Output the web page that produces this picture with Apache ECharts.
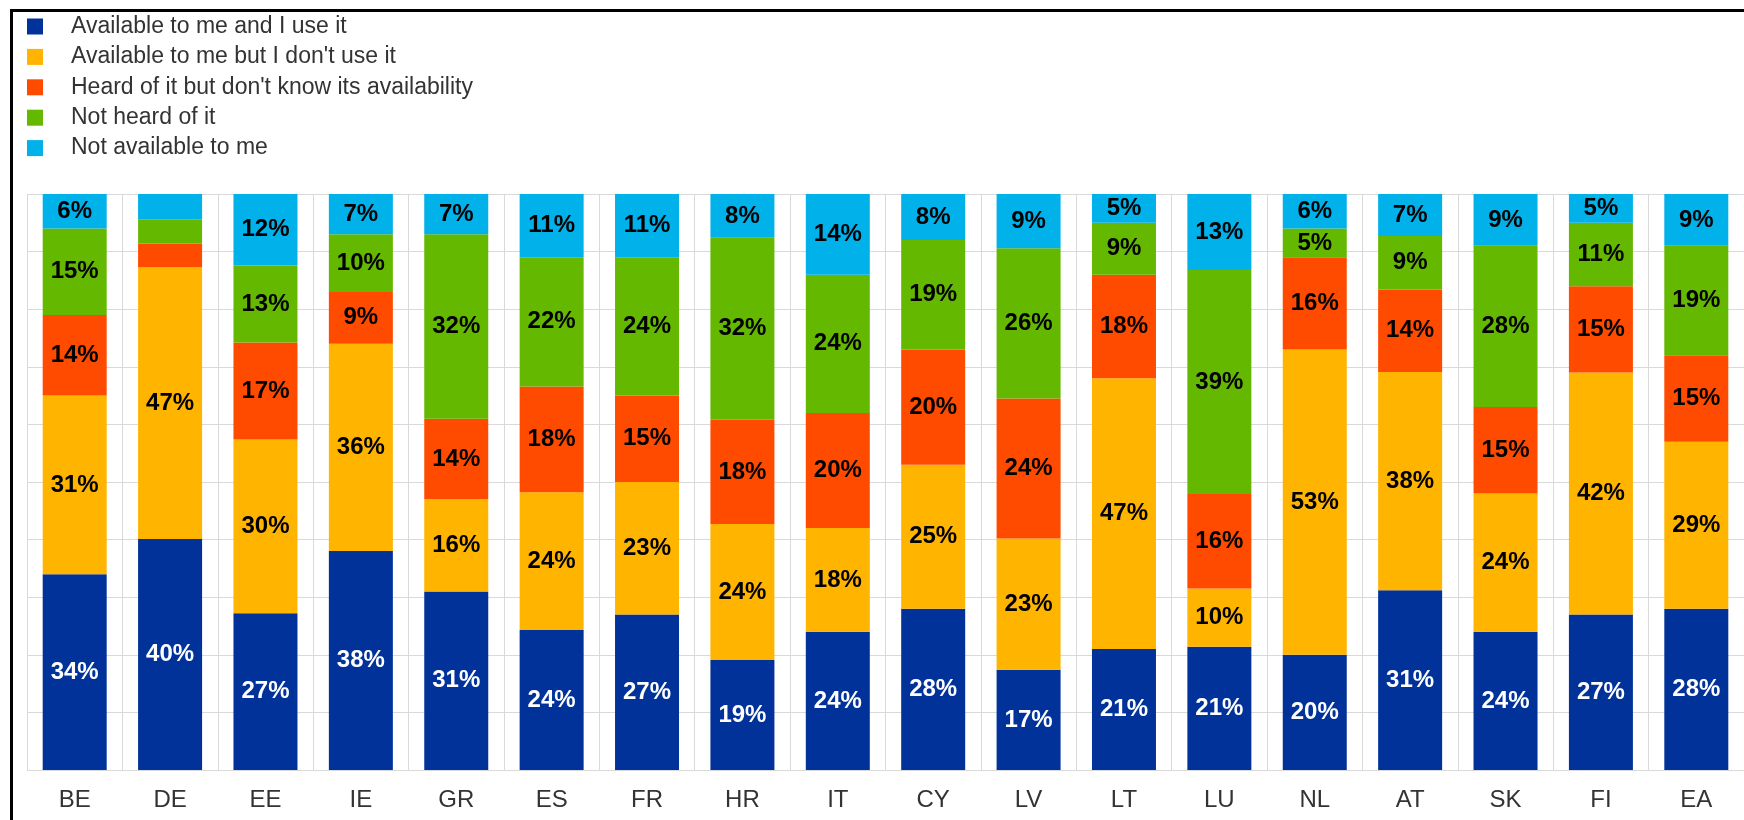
<!DOCTYPE html>
<html>
<head>
<meta charset="utf-8">
<script src="https://cdn.jsdelivr.net/npm/echarts@6/dist/echarts.min.js"></script>
<style>
  html, body { margin: 0; padding: 0; background: #fff; }
  #chart { width: 1744px; height: 820px; }
</style>
</head>
<body>
<div id="chart"></div>
<script>
const categories = ['BE','DE','EE','IE','GR','ES','FR','HR','IT','CY','LV','LT','LU','NL','AT','SK','FI','EA'];
const seriesNames = [
  'Available to me and I use it',
  "Available to me but I don't use it",
  "Heard of it but don't know its availability",
  'Not heard of it',
  'Not available to me'
];
const useIt      = [34, 40.1, 27.2, 38, 31, 24.3, 27, 19.1, 24, 28, 17.4, 21, 21.4, 20, 31.2, 24, 27, 28];
const dontUseIt  = [31, 47.2, 30.2, 36, 16, 23.9, 23, 23.6, 18, 25, 22.8, 47, 10.1, 53, 37.9, 24, 42, 29];
const heardOf    = [14, 4.1, 16.8, 9, 14, 18.4, 15, 18.1, 20, 20, 24.3, 18, 16.4, 16, 14.3, 15, 15, 15];
const notHeard   = [15, 4.2, 13.4, 10, 32, 22.4, 24, 31.6, 24, 19, 26.1, 9, 38.9, 5, 9.3, 28, 11, 19];
const notAvail   = [6, 4.4, 12.4, 7, 7, 11.0, 11, 7.6, 14, 8, 9.4, 5, 13.2, 6, 7.3, 9, 5, 9];
const seriesData = [useIt, dontUseIt, heardOf, notHeard, notAvail];
const colors = ['#003299', '#FFB400', '#FF4B00', '#65B800', '#00B1EA'];
const labelColors = ['#ffffff', '#000000', '#000000', '#000000', '#000000'];

const chart = echarts.init(document.getElementById('chart'), null, { renderer: 'canvas' });
const font = 'Liberation Sans, Arial, sans-serif';

const option = {
  animation: false,
  backgroundColor: '#ffffff',
  color: colors,
  graphic: [{
    type: 'rect',
    left: 9, top: 8,
    shape: { x: 0, y: 0, width: 1800, height: 900 },
    style: { fill: 'none', stroke: '#000', lineWidth: 3 },
    silent: true, z: 100
  }],
  legend: {
    orient: 'vertical',
    left: 22, top: 10,
    itemWidth: 16, itemHeight: 16,
    itemGap: 7.4,
    icon: 'rect',
    data: seriesNames,
    textStyle: { fontFamily: font, fontSize: 23, color: '#333', padding: [0, 0, 0, 23] }
  },
  grid: { left: 27, right: -1, top: 194, bottom: 50, containLabel: false },
  xAxis: {
    type: 'category',
    data: categories,
    axisTick: { show: false },
    axisLine: { show: true, lineStyle: { color: '#d9d9d9', width: 1 } },
    axisLabel: { fontFamily: font, fontSize: 24, color: '#333', margin: 18 },
    splitLine: { show: true, lineStyle: { color: '#d9d9d9', width: 1 } }
  },
  yAxis: {
    type: 'value',
    min: 0, max: 100, interval: 10,
    axisLabel: { show: false },
    axisLine: { show: false },
    axisTick: { show: false },
    splitLine: { show: true, lineStyle: { color: '#d9d9d9', width: 1 } }
  },
  series: seriesNames.map((name, i) => ({
    name: name,
    type: 'bar',
    stack: 'total',
    barWidth: 64,
    data: seriesData[i],
    itemStyle: { color: colors[i] },
    label: {
      show: true,
      position: 'inside',
      fontFamily: font,
      fontWeight: 'bold',
      fontSize: 24,
      color: labelColors[i],
      formatter: p => (p.value >= 4.5 ? Math.round(p.value) + '%' : '')
    }
  }))
};
chart.setOption(option);
</script>
</body>
</html>
